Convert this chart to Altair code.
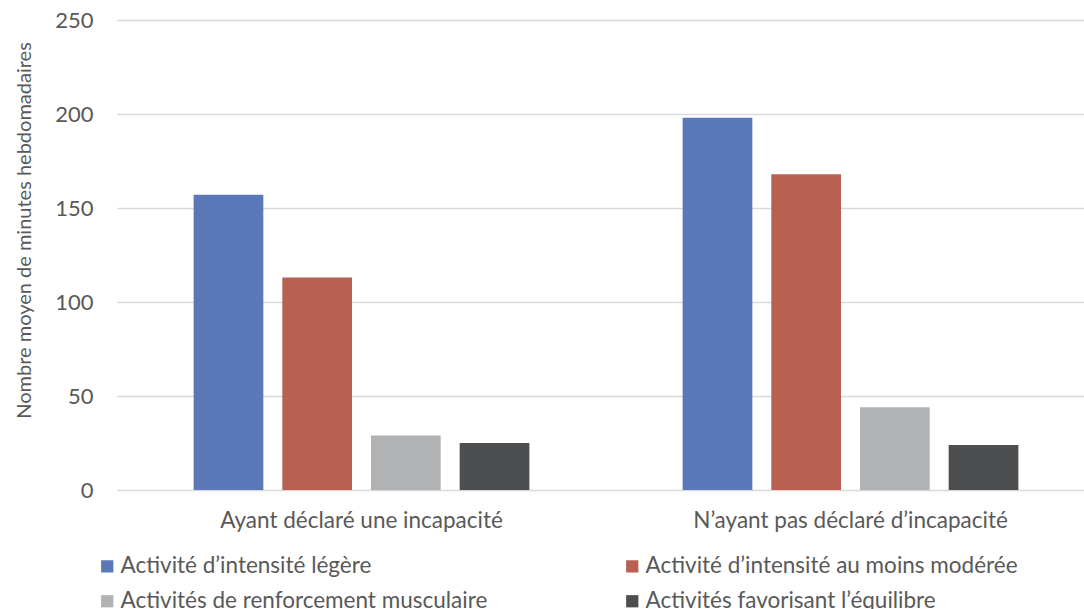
import altair as alt
import pandas as pd

groups = ["Ayant déclaré une incapacité", "N’ayant pas déclaré d’incapacité"]
series = [
    "Activité d’intensité légère",
    "Activité d’intensité au moins modérée",
    "Activités de renforcement musculaire",
    "Activités favorisant l’équilibre",
]
colors = ["#5A77B8", "#B86052", "#B1B2B3", "#4D4E50"]
vals_incap = [157, 113, 29, 25]
vals_no_incap = [198, 168, 44, 24]

rows = []
for g, vals in zip(groups, [vals_incap, vals_no_incap]):
    for s, v in zip(series, vals):
        rows.append({"groupe": g, "activite": s, "minutes": v})
df = pd.DataFrame(rows)

FONT = "Lato"
TXT = "#595959"

chart = alt.Chart(df).mark_bar().encode(
    x=alt.X(
        "groupe:N",
        sort=groups,
        title=None,
        scale=alt.Scale(range=[0, 978], paddingInner=0, paddingOuter=0),
        axis=alt.Axis(
            labelAngle=0, labelFontSize=22.5, labelColor=TXT, labelFont=FONT,
            labelPadding=19, ticks=False, domain=False, grid=False, labelLimit=500,
        ),
    ),
    xOffset=alt.XOffset(
        "activite:N", sort=series,
        scale=alt.Scale(paddingInner=0.214, paddingOuter=0.864),
    ),
    y=alt.Y(
        "minutes:Q",
        title="Nombre moyen de minutes hebdomadaires",
        scale=alt.Scale(domain=[0, 250], nice=False),
        axis=alt.Axis(
            values=[0, 50, 100, 150, 200, 250], labelFontSize=22, labelColor=TXT,
            labelFont=FONT, labelPadding=24, ticks=False, domain=False,
            gridColor="#D9D9D9", gridWidth=1.5,
            titleFontSize=20, titleFont=FONT, titleColor=TXT, titleFontWeight="normal",
            titleX=-93, titleY=210, titleAngle=270, titleAlign="center",
            titleBaseline="middle",
        ),
    ),
    color=alt.Color(
        "activite:N", sort=series,
        scale=alt.Scale(domain=series, range=colors),
        legend=alt.Legend(
            title=None, orient="none", legendX=-21, legendY=535, columns=2,
            direction="horizontal", padding=0,
            symbolType="square", symbolSize=150, symbolStrokeWidth=0,
            labelFontSize=22.5, labelColor=TXT, labelFont=FONT, labelOffset=2,
            labelLimit=600, rowPadding=12, columnPadding=133,
        ),
    ),
).properties(
    width=967, height=470,
    autosize=alt.AutoSizeParams(type="none"),
    padding={"left": 117, "top": 20, "right": 0, "bottom": 119},
).configure_view(stroke=None)

chart.save("out.html", embed_options={"renderer": "svg", "actions": False})
